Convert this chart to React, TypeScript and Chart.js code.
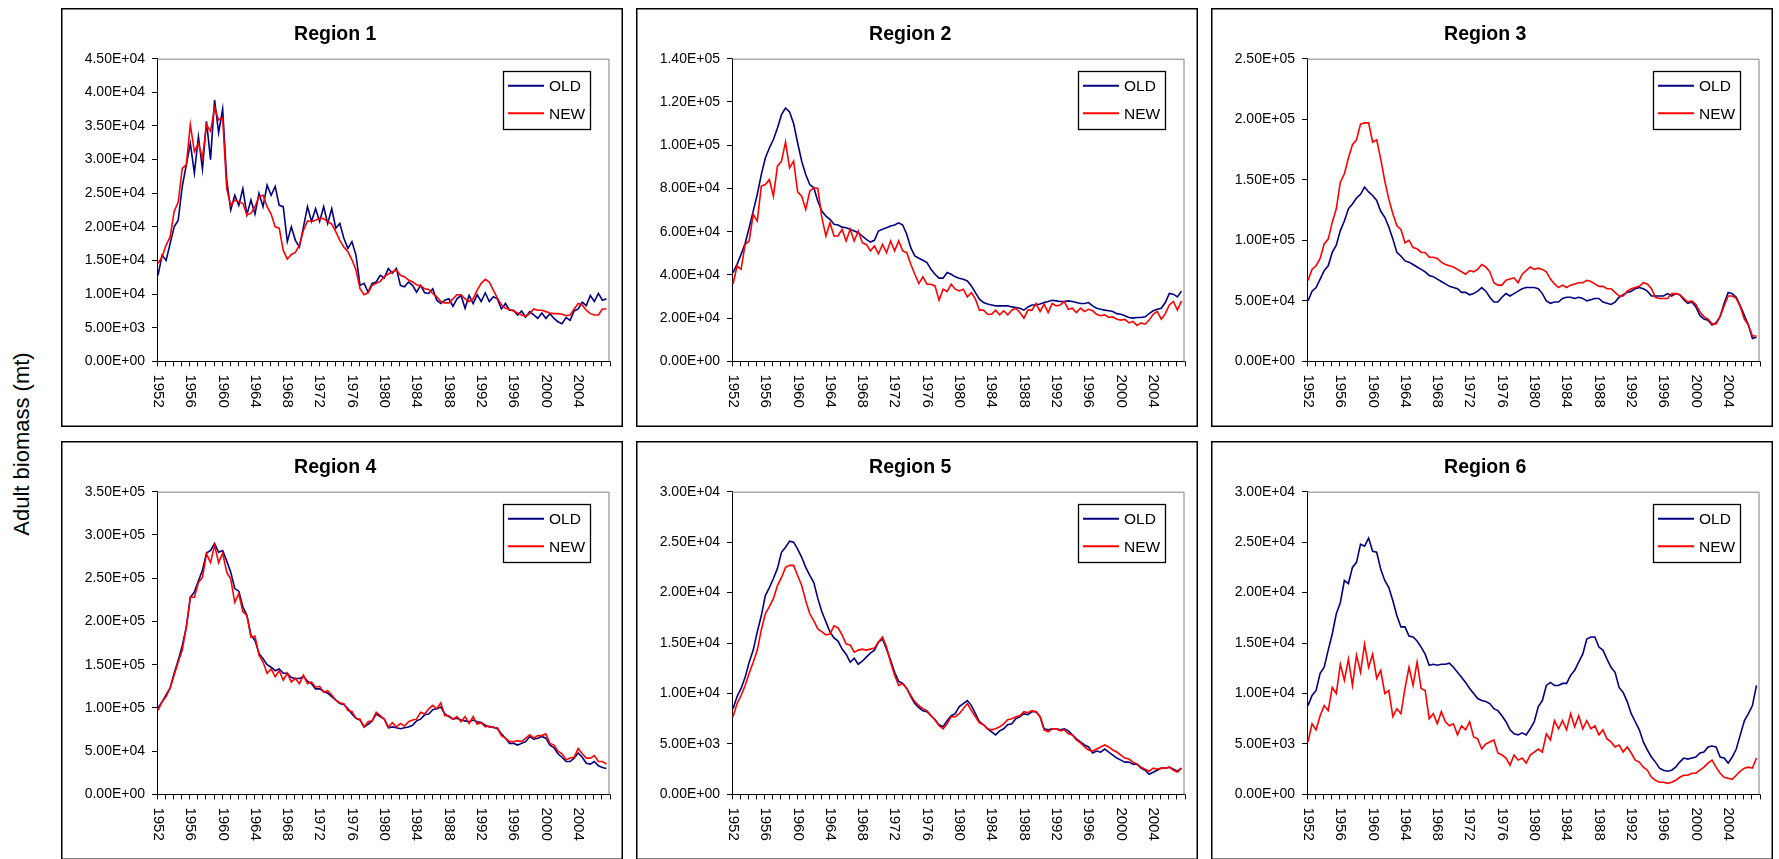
import React, { useEffect, useRef } from 'react';
import { Chart, registerables } from 'chart.js';

Chart.register(...registerables);

const FONT = "'Liberation Sans', Arial, Helvetica, sans-serif";

// ---- categories ----
const YEARS = [
  1952, 1953, 1954, 1955, 1956, 1957, 1958, 1959, 1960, 1961, 1962, 1963, 1964, 1965,
  1966, 1967, 1968, 1969, 1970, 1971, 1972, 1973, 1974, 1975, 1976, 1977, 1978, 1979,
  1980, 1981, 1982, 1983, 1984, 1985, 1986, 1987, 1988, 1989, 1990, 1991, 1992, 1993,
  1994, 1995, 1996, 1997, 1998, 1999, 2000, 2001, 2002, 2003, 2004, 2005, 2006, 2007,
];
const HALF_STEPS = [0, 0.5];
const X_LABELS = ['1952', '1956', '1960', '1964', '1968', '1972', '1976', '1980', '1984', '1988', '1992', '1996', '2000', '2004'];
const SERIES_LABELS = ['OLD', 'NEW'];
const REGION_TITLES = ['Region 1', 'Region 2', 'Region 3', 'Region 4', 'Region 5', 'Region 6'];
const Y_MAX = [45000, 140000, 250000, 350000, 30000, 30000];
const Y_STEP = [5000, 20000, 50000, 50000, 5000, 5000];
const Y_AXIS_TITLE = 'Adult biomass (mt)';

// ---- series values (two per year: start, mid-year) ----
const R1_OLD = [
  12800, 15800, 15000, 17500, 20000, 21000, 26000, 29200,
  32400, 28000, 33400, 28600, 35700, 30000, 38900, 34000,
  37500, 27000, 22500, 24700, 23200, 25700, 21800, 24000,
  21900, 25000, 23000, 26200, 24700, 26000, 23200, 23000,
  17800, 20000, 18000, 17000, 20000, 23000, 20800, 22700,
  20800, 23000, 20500, 22700, 19800, 20500, 18300, 16800,
  17800, 15800, 11300, 11600, 10300, 11600, 11800, 12800,
  12400, 13800, 13100, 13800, 11300, 11100, 11800, 11300,
  10300, 11300, 10200, 10100, 10800, 9100, 8600, 9100,
  9300, 8200, 9300, 9800, 7900, 9800, 8600, 9900,
  8900, 10200, 8900, 9600, 9300, 7800, 8600, 7600,
  7600, 6900, 7500, 6600, 7400, 6900, 6400, 7200,
  6400, 7100, 6400, 5900, 5600, 6500, 6100, 7500,
  7800, 8800, 8300, 9800, 8900, 10100, 9100, 9300,
];
const R1_NEW = [
  14600, 15500, 17300, 18500, 22300, 23700, 28700, 29200,
  35200, 31200, 32400, 30200, 35200, 34200, 37700, 35900,
  36200, 25700, 23200, 24000, 23700, 23500, 21800, 22000,
  23000, 24500, 24700, 23000, 21900, 20000, 19800, 16500,
  15200, 15900, 16200, 17300, 19500, 20900, 20800, 21000,
  21300, 21200, 20800, 20400, 19300, 18000, 17000, 16300,
  15100, 13600, 10800, 9900, 10200, 11300, 11600, 11900,
  12600, 13000, 13300, 13600, 12800, 12600, 12100, 11800,
  11400, 11200, 10800, 10700, 10100, 9600, 8900, 8700,
  8700, 9300, 9900, 9900, 9300, 8900, 9300, 10600,
  11600, 12200, 11800, 10600, 9400, 8400, 7900, 7700,
  7500, 7200, 6900, 6700, 7100, 7800, 7600, 7600,
  7400, 7200, 7100, 7100, 7000, 6800, 6900, 7800,
  8600, 8400, 7600, 7100, 6900, 6900, 7800, 7800,
];
const R2_OLD = [
  41100, 44900, 49500, 54500, 61800, 69500, 77200, 86400,
  94100, 98700, 102600, 108000, 114100, 117200, 115400, 110000,
  101000, 92600, 86400, 81800, 80300, 74100, 69500, 67200,
  65700, 63400, 63100, 62100, 61800, 61100, 60300, 59500,
  58000, 56400, 55200, 56000, 60300, 61100, 61800, 62600,
  63100, 64100, 63100, 58800, 52600, 48800, 47700, 46800,
  45700, 42600, 40300, 38500, 38500, 41100, 40300, 39100,
  38500, 38000, 37200, 34900, 31800, 28800, 27200, 26500,
  26100, 25700, 25700, 25700, 25700, 25200, 24900, 24600,
  23700, 25200, 26100, 26100, 26500, 27200, 27700, 28300,
  28000, 27700, 27700, 28000, 27700, 27200, 26800, 26800,
  27200, 25700, 24600, 24100, 23700, 23400, 23100, 22100,
  21800, 21100, 20300, 20000, 20300, 20300, 20600, 22100,
  23400, 24100, 24600, 27200, 31400, 31100, 29800, 32500,
];
const R2_NEW = [
  35700, 44100, 42600, 54100, 55700, 68000, 64900, 81100,
  81800, 84100, 76400, 90300, 92600, 101500, 89500, 92600,
  78400, 76400, 70300, 78700, 80300, 80000, 66400, 58000,
  64100, 58000, 58000, 61100, 55700, 61100, 55700, 60300,
  54900, 54100, 51100, 53400, 49800, 54100, 50300, 55700,
  51100, 55700, 51100, 50300, 44900, 40300, 36000, 39100,
  35700, 35700, 34900, 28300, 33400, 32300, 35700, 33400,
  32600, 33400, 29800, 31800, 28800, 23700, 23700, 21800,
  21800, 23700, 21500, 23400, 21500, 23700, 24600, 22600,
  20000, 23700, 23700, 26800, 23100, 26500, 22600, 26800,
  25700, 26100, 27700, 24100, 24600, 22600, 24600, 23100,
  24100, 23400, 21800, 21100, 21500, 20300, 20600, 19500,
  19100, 19400, 17800, 18500, 16600, 17800, 17200, 19100,
  21800, 23100, 19500, 22100, 26100, 27700, 23700, 28000,
];
const R3_OLD = [
  50000, 58000, 61000, 68000, 75000, 79000, 90000, 96000,
  108000, 116000, 126000, 130000, 135000, 138000, 144000, 140000,
  137000, 133000, 124000, 119000, 111000, 101000, 90000, 87000,
  83000, 82000, 80000, 78000, 76000, 74000, 71000, 70000,
  68000, 66000, 64000, 62000, 61000, 60000, 57000, 57000,
  55000, 56000, 58000, 61000, 58000, 53000, 49000, 49000,
  53000, 56000, 54000, 56000, 58000, 60000, 61000, 61000,
  61000, 60000, 56000, 50000, 48000, 49000, 49000, 52000,
  53000, 53000, 52000, 53000, 52000, 50000, 51000, 52000,
  52000, 49000, 48000, 47000, 49000, 53000, 55000, 57000,
  58000, 60000, 61000, 60000, 58000, 54000, 54000, 54000,
  54000, 56000, 54000, 56000, 55000, 51000, 48000, 49000,
  45000, 38000, 35000, 34000, 30000, 32000, 37000, 48000,
  57000, 56000, 53000, 46000, 38000, 30000, 19000, 20000,
];
const R3_NEW = [
  66800, 76000, 79000, 85000, 97000, 101000, 115000, 126000,
  148000, 155000, 168000, 179000, 183000, 196000, 197000, 197000,
  181000, 183000, 167000, 149000, 134000, 122000, 112000, 109000,
  98000, 100000, 94000, 93000, 90000, 90000, 86000, 86000,
  85000, 82000, 80000, 79000, 78000, 76000, 74000, 72000,
  75000, 74000, 76000, 80000, 78000, 74000, 65000, 63000,
  63000, 67000, 68000, 69000, 65000, 72000, 75000, 78000,
  76000, 77000, 76000, 74000, 68000, 64000, 61000, 63000,
  61000, 63000, 64000, 65000, 65000, 67000, 66000, 64000,
  62000, 62000, 60000, 60000, 57000, 54000, 54000, 58000,
  60000, 61000, 62000, 65000, 64000, 60000, 53000, 52000,
  52000, 52000, 56000, 56000, 55000, 52000, 49000, 50000,
  47000, 41000, 37000, 35000, 31000, 31000, 37000, 46000,
  54000, 54000, 52000, 45000, 35000, 30000, 21000, 21000,
];
const R4_OLD = [
  100000, 107000, 115000, 123000, 140000, 155000, 172000, 193000,
  228000, 234000, 247000, 259000, 279000, 282000, 290000, 280000,
  282000, 270000, 257000, 238000, 235000, 217000, 207000, 184000,
  178000, 163000, 157000, 150000, 147000, 143000, 145000, 140000,
  140000, 135000, 134000, 134000, 136000, 131000, 128000, 122000,
  122000, 119000, 117000, 113000, 109000, 105000, 104000, 99000,
  93000, 88000, 86000, 78000, 81000, 85000, 93000, 90000,
  87000, 77000, 78000, 77000, 76000, 77000, 78000, 80000,
  85000, 87000, 92000, 93000, 98000, 99000, 101000, 93000,
  90000, 87000, 88000, 86000, 85000, 84000, 86000, 84000,
  83000, 80000, 78000, 78000, 76000, 70000, 65000, 59000,
  59000, 57000, 59000, 61000, 67000, 64000, 65000, 67000,
  65000, 57000, 54000, 47000, 43000, 38000, 38000, 42000,
  48000, 43000, 36000, 35000, 38000, 33000, 31000, 30000,
];
const R4_NEW = [
  97000, 107000, 113000, 123000, 138000, 153000, 167000, 193000,
  228000, 228000, 245000, 251000, 278000, 268000, 288000, 268000,
  279000, 257000, 249000, 222000, 232000, 211000, 207000, 182000,
  183000, 161000, 153000, 140000, 145000, 136000, 143000, 132000,
  140000, 130000, 134000, 128000, 138000, 128000, 130000, 124000,
  125000, 118000, 120000, 115000, 109000, 106000, 105000, 97000,
  96000, 88000, 87000, 78000, 84000, 85000, 95000, 91000,
  87000, 78000, 83000, 78000, 82000, 79000, 84000, 86000,
  87000, 95000, 93000, 99000, 103000, 99000, 106000, 91000,
  91000, 87000, 90000, 84000, 90000, 82000, 90000, 81000,
  83000, 78000, 79000, 77000, 77000, 68000, 65000, 61000,
  61000, 62000, 61000, 65000, 69000, 65000, 68000, 68000,
  70000, 59000, 57000, 50000, 47000, 40000, 42000, 43000,
  53000, 47000, 42000, 42000, 45000, 38000, 38000, 35000,
];
const R5_OLD = [
  8500, 9700, 10500, 11600, 13100, 14300, 16100, 17700,
  19700, 20500, 21400, 22400, 24000, 24500, 25100, 25000,
  24300, 23500, 22500, 21700, 21000, 19400, 18100, 17100,
  16100, 15500, 15200, 14400, 13900, 13100, 13500, 12900,
  13200, 13600, 14000, 14300, 15100, 15400, 14400, 13300,
  12100, 11200, 11000, 10500, 9700, 9000, 8600, 8300,
  8200, 7800, 7400, 6900, 6700, 7300, 7800, 8000,
  8700, 9000, 9300, 8800, 8000, 7200, 6900, 6500,
  6200, 5900, 6300, 6500, 6900, 7000, 7500, 7700,
  8000, 7900, 8200, 8200, 7700, 6500, 6400, 6500,
  6500, 6400, 6500, 6300, 5900, 5500, 5200, 4900,
  4700, 4100, 4300, 4200, 4500, 4200, 3900, 3600,
  3400, 3200, 3200, 3000, 3000, 2600, 2400, 2000,
  2200, 2400, 2600, 2600, 2700, 2500, 2300, 2600,
];
const R5_NEW = [
  7700, 9000, 9800, 10800, 12000, 13100, 14300, 16300,
  17900, 18600, 19400, 20700, 21500, 22500, 22700, 22700,
  21700, 20700, 19200, 17900, 17200, 16400, 16100, 15800,
  15900, 16700, 16500, 15800, 14900, 14800, 14100, 14300,
  14400, 14300, 14400, 14500, 15100, 15600, 14600, 13100,
  11800, 10800, 11000, 10500, 9800, 9200, 8800, 8500,
  8300, 7800, 7400, 6800, 6500, 7000, 7700, 7700,
  8000, 8500, 9000, 8300, 7700, 7100, 6900, 6500,
  6400, 6500, 6700, 7000, 7400, 7500, 7700, 7800,
  8200, 8100, 8300, 8200, 7700, 6400, 6200, 6500,
  6500, 6300, 6400, 6000, 5900, 5400, 5100, 4700,
  4400, 4300, 4500, 4700, 4900, 4700, 4400, 4200,
  3900, 3600, 3500, 3200, 3000, 2700, 2500, 2300,
  2600, 2500, 2600, 2600, 2700, 2400, 2200, 2600,
];
const R6_OLD = [
  8800, 9800, 10300, 12000, 12600, 14300, 15900, 17900,
  19000, 21200, 20900, 22500, 23000, 24800, 24600, 25400,
  24100, 24000, 22300, 21200, 20500, 19200, 17700, 16600,
  16600, 15700, 15600, 15200, 14600, 13900, 12800, 12900,
  12800, 12900, 12900, 13000, 12600, 12100, 11600, 11100,
  10500, 10000, 9500, 9300, 9200, 9000, 8500, 8300,
  7800, 7200, 6400, 6000, 5900, 6100, 5900, 6500,
  7200, 8700, 9300, 10800, 11100, 10800, 10800, 11000,
  11000, 11800, 12300, 13100, 13900, 15400, 15600, 15600,
  14600, 14300, 13400, 12600, 12100, 10600, 10100, 9200,
  8000, 7200, 6400, 5200, 4400, 3700, 3200, 2600,
  2400, 2300, 2400, 2700, 3200, 3600, 3500, 3600,
  3700, 4100, 4200, 4700, 4800, 4700, 3700, 3600,
  3100, 3700, 4500, 5900, 7300, 8000, 8800, 10800,
];
const R6_NEW = [
  5200, 7000, 6400, 7800, 8800, 8300, 10600, 10000,
  12900, 11300, 13400, 10800, 13800, 12100, 14900, 12600,
  13900, 11500, 12300, 10000, 10300, 7700, 8500, 8000,
  10500, 12600, 10800, 13100, 10500, 10300, 7500, 8000,
  7000, 8200, 7200, 6800, 7000, 5900, 6800, 6400,
  7200, 5700, 5500, 4500, 5000, 5200, 5400, 4100,
  3900, 3600, 2900, 3900, 3400, 3600, 3100, 3900,
  4200, 4500, 4200, 6000, 5400, 7300, 6500, 7300,
  6400, 8000, 6700, 7800, 6500, 7300, 6500, 6800,
  5900, 6400, 5500, 5200, 4700, 4900, 4200, 4700,
  4100, 3400, 3200, 2700, 2400, 1700, 1400, 1200,
  1200, 1100, 1200, 1400, 1700, 1900, 1900, 2100,
  2100, 2400, 2700, 3100, 3400, 2700, 2100, 1700,
  1600, 1500, 1900, 2300, 2600, 2700, 2600, 3600,
];

const OLD_SERIES = [R1_OLD, R2_OLD, R3_OLD, R4_OLD, R5_OLD, R6_OLD];
const NEW_SERIES = [R1_NEW, R2_NEW, R3_NEW, R4_NEW, R5_NEW, R6_NEW];

// ---- styling / layout ----
const OLD_COLOR = '#000080';
const NEW_COLOR = '#ff0000';
const PANEL_W = 562;
const PANEL_H = 419;
const PANEL_LEFTS = [61, 636, 1211];
const PANEL_TOPS = [8, 441];
const PLOT_LEFT = 96;
const PLOT_RIGHT_PAD = 13.5;
const PLOT_BOTTOM = 353.4;

const X_POSITIONS = YEARS.flatMap((y) => HALF_STEPS.map((h) => y + h));
const X_MIN = YEARS[0] - 0.125;
const X_MAX = YEARS[YEARS.length - 1] + 0.875;
const X_TICK_MARKS = YEARS.map((y) => y - 0.125).concat([X_MAX]);

function fmtSci(v: number): string {
  if (v === 0) return '0.00E+00';
  let exp = Math.floor(Math.log10(Math.abs(v)) + 1e-9);
  let mant = v / Math.pow(10, exp);
  if (Math.round(mant * 100) / 100 >= 10) {
    mant /= 10;
    exp += 1;
  }
  const sign = exp < 0 ? '-' : '+';
  return mant.toFixed(2) + 'E' + sign + String(Math.abs(exp)).padStart(2, '0');
}

const decorPlugin = {
  id: 'panelDecor',
  beforeDraw(chart: any) {
    const { ctx } = chart;
    ctx.save();
    ctx.fillStyle = '#ffffff';
    ctx.fillRect(0, 0, chart.width, chart.height);
    ctx.restore();
  },
  afterDraw(chart: any) {
    const { ctx, chartArea: a } = chart;
    const xs = chart.scales.x;
    ctx.save();

    // plot area frame (top / right, grey)
    ctx.strokeStyle = '#808080';
    ctx.lineWidth = 1;
    ctx.beginPath();
    ctx.moveTo(a.left, a.top + 0.5);
    ctx.lineTo(a.right - 0.5, a.top + 0.5);
    ctx.lineTo(a.right - 0.5, a.bottom);
    ctx.stroke();

    // x tick marks
    ctx.strokeStyle = '#000000';
    ctx.beginPath();
    for (const t of X_TICK_MARKS) {
      const px = Math.round(xs.getPixelForValue(t)) + 0.5;
      ctx.moveTo(px, a.bottom);
      ctx.lineTo(px, a.bottom + 5);
    }
    ctx.stroke();

    // x labels, rotated clockwise
    ctx.fillStyle = '#000000';
    ctx.font = `15px ${FONT}`;
    ctx.textAlign = 'left';
    ctx.textBaseline = 'middle';
    for (const lab of X_LABELS) {
      const px = xs.getPixelForValue(Number(lab));
      ctx.save();
      ctx.translate(px, a.bottom + 13);
      ctx.rotate(Math.PI / 2);
      ctx.fillText(lab, 0, 0);
      ctx.restore();
    }

    // legend
    const bx = a.right - 107;
    const by = a.top + 12.3;
    ctx.fillStyle = '#ffffff';
    ctx.fillRect(bx, by, 87, 58);
    ctx.strokeStyle = '#000000';
    ctx.lineWidth = 1.3;
    ctx.strokeRect(Math.round(bx) + 0.5, Math.round(by) + 0.5, 87, 58);
    const rows = [a.top + 27, a.top + 54.6];
    chart.data.datasets.forEach((ds: any, i: number) => {
      const yy = rows[i];
      ctx.strokeStyle = ds.borderColor;
      ctx.lineWidth = 2;
      ctx.beginPath();
      ctx.moveTo(a.right - 101.5, yy);
      ctx.lineTo(a.right - 65.5, yy);
      ctx.stroke();
      ctx.fillStyle = '#000000';
      ctx.font = `15.5px ${FONT}`;
      ctx.textAlign = 'left';
      ctx.textBaseline = 'middle';
      ctx.fillText(ds.label, a.right - 60.5, yy + 1);
    });

    // panel border
    ctx.strokeStyle = '#000000';
    ctx.lineWidth = 1.5;
    ctx.strokeRect(0.75, 0.75, chart.width - 1.5, chart.height - 1.5);
    ctx.restore();
  },
};

function Panel({ idx }: { idx: number }) {
  const ref = useRef<HTMLCanvasElement | null>(null);
  useEffect(() => {
    if (!ref.current) return;
    const toPoints = (vals: number[]) => vals.map((v, i) => ({ x: X_POSITIONS[i], y: v }));
    const chart = new Chart(ref.current, {
      type: 'line',
      data: {
        datasets: [
          {
            label: SERIES_LABELS[0],
            data: toPoints(OLD_SERIES[idx]),
            borderColor: OLD_COLOR,
            backgroundColor: OLD_COLOR,
            borderWidth: 1.6,
            pointRadius: 0,
            tension: 0,
            order: 1,
          },
          {
            label: SERIES_LABELS[1],
            data: toPoints(NEW_SERIES[idx]),
            borderColor: NEW_COLOR,
            backgroundColor: NEW_COLOR,
            borderWidth: 1.6,
            pointRadius: 0,
            tension: 0,
            order: 0,
          },
        ],
      },
      options: {
        animation: false,
        responsive: false,
        maintainAspectRatio: false,
        events: [],
        layout: { padding: { left: 0, right: PLOT_RIGHT_PAD, top: 0, bottom: 0 } },
        plugins: {
          legend: { display: false },
          tooltip: { enabled: false },
          title: {
            display: true,
            text: REGION_TITLES[idx],
            color: '#000000',
            font: { family: FONT, size: 19.5, weight: 'bold', lineHeight: 1.2 },
            padding: { top: 14.6, bottom: 12.7 },
          },
        },
        scales: {
          x: {
            type: 'linear',
            min: X_MIN,
            max: X_MAX,
            ticks: { display: false },
            grid: { display: false },
            border: { display: true, color: '#000000', width: 1 },
            afterFit: (s: any) => {
              s.height = PANEL_H - PLOT_BOTTOM;
            },
          },
          y: {
            type: 'linear',
            min: 0,
            max: Y_MAX[idx],
            ticks: {
              stepSize: Y_STEP[idx],
              autoSkip: false,
              color: '#000000',
              padding: 7,
              font: { family: FONT, size: 14 },
              callback: (v: any) => fmtSci(Number(v)),
            },
            grid: { display: true, drawOnChartArea: false, drawTicks: true, tickLength: 5, color: '#000000' },
            border: { display: true, color: '#000000', width: 1 },
            afterFit: (s: any) => {
              s.width = PLOT_LEFT;
            },
          },
        },
      } as any,
      plugins: [decorPlugin],
    });
    return () => chart.destroy();
  }, [idx]);
  const left = PANEL_LEFTS[idx % 3];
  const top = PANEL_TOPS[Math.floor(idx / 3)];
  return (
    <canvas
      ref={ref}
      width={PANEL_W}
      height={PANEL_H}
      style={{ position: 'absolute', left, top, width: PANEL_W, height: PANEL_H }}
    />
  );
}

export default function App() {
  return (
    <div
      style={{
        position: 'absolute',
        left: 0,
        top: 0,
        width: 1779,
        height: 859,
        overflow: 'hidden',
        background: '#ffffff',
        fontFamily: FONT,
      }}
    >
      <div
        style={{
          position: 'absolute',
          left: 22,
          top: 444,
          transform: 'translate(-50%, -50%) rotate(-90deg)',
          whiteSpace: 'nowrap',
          fontSize: 22,
          color: '#000000',
        }}
      >
        {Y_AXIS_TITLE}
      </div>
      {REGION_TITLES.map((_, i) => (
        <Panel key={i} idx={i} />
      ))}
    </div>
  );
}
